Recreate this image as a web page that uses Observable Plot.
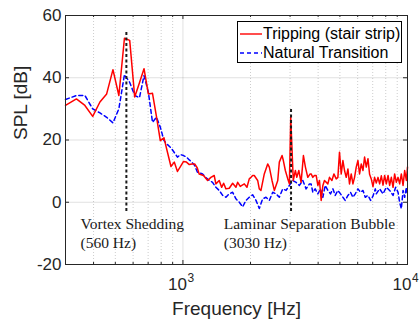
<!DOCTYPE html>
<html><head><meta charset="utf-8">
<script src="https://cdn.jsdelivr.net/npm/d3@7"></script>
<script src="https://cdn.jsdelivr.net/npm/@observablehq/plot@0.6"></script>
<style>
body{margin:0;background:#fff;}
#wrap{position:relative;width:419px;height:324px;font-family:"Liberation Sans",Arial,sans-serif;}
#legend{position:absolute;left:237px;top:21px;width:165px;height:42px;border:1px solid #000;background:#fff;box-sizing:border-box;font-size:16px;color:#000;}
#legend .row{position:absolute;left:0;height:20px;line-height:20px;white-space:nowrap;}
#legend svg{position:absolute;left:2px;top:0;}
#legend span{position:absolute;left:25px;top:0;}
</style></head>
<body><div id="wrap"></div>
<script>
const tripFreq = [300,335.5,366,396.5,427,457.5,488,518.5,549,579.5,610,640.5,671,701.5,732,762.5,793,823.5,854,884.5,915,945.5,976,1006.5,1037,1067.5,1098,1128.5,1159,1181,1235,1288,1332,1378,1402,1451,1487,1518,1554,1608,1665,1722,1753,1800,1876,1928,1974,2009,2045,2078,2152,2188,2226,2303,2385,2425,2493,2553,2644,2687,2763,2800,2858,2930,2979,3020,3100,3168,3214,3281,3359,3440,3511,3598,3685,3723,3788,3851,3920,3989,4055,4127,4199,4268,4420,4493,4607,4702,4815,4898,4980,5068,5157,5243,5335,5429,5518,5616,5715,5811,5912,6016,6117,6225,6335,6440,6553,6668,6778,6898,7020,7136,7261,7390,7514,7646,7781,7911,8050,8192,8327,8472,8622,8764,8920,9077,9227,9388,9555,9714,9885,10000];
const tripSPL = [31.1,33.2,31.1,27.6,32.2,34.8,42.6,34.3,52.7,52.0,33.8,38.4,42.9,34.8,35.0,27.5,19.8,20.7,16.0,11.5,12.9,9.9,11.5,13.1,12.9,12.1,12.3,12.3,11.0,9.1,8.6,7.0,8.0,8.6,5.9,7.0,4.8,6.1,4.3,4.5,6.1,4.8,6.4,5.1,5.9,4.8,7.5,8.0,8.6,8.6,7.0,4.3,3.8,9.1,12.3,11.3,7.0,3.8,7.0,12.9,15.0,13.4,10.2,7.5,5.9,27.3,7.0,10.2,8.0,10.2,6.4,15.0,11.3,8.0,9.1,9.1,8.0,8.6,8.6,5.4,7.0,0.6,5.4,7.0,5.9,8.0,7.0,9.1,7.5,8.0,16.1,9.1,13.4,10.2,8.0,10.7,5.9,9.1,5.9,8.0,11.3,13.4,9.1,12.3,10.2,14.5,11.3,14.0,9.0,7.5,5.0,8.0,6.2,8.0,5.9,8.5,5.5,8.6,5.9,8.6,5.4,8.0,4.8,9.1,6.4,8.0,5.9,9.1,5.4,10.2,7.0,11.3];
const natFreq = [300,335.5,366,396.5,427,457.5,488,518.5,549,579.5,610,640.5,671,701.5,732,762.5,793,823.5,854,884.5,915,945.5,976,1006.5,1037,1067.5,1098,1128.5,1159,1223,1265,1310,1355,1402,1451,1503,1554,1608,1665,1722,1782,1845,1909,1974,2045,2115,2188,2265,2344,2425,2511,2598,2687,2783,2879,2979,3084,3191,3301,3418,3536,3659,3723,3788,3879,3989,4097,4199,4300,4420,4540,4654,4766,4898,5032,5157,5280,5429,5576,5715,5852,6016,6179,6335,6486,6668,6849,7020,7188,7261,7514,7781,8050,8327,8622,8856,9077,9227,9388,9555,9714,9885,10000];
const natSPL = [33.0,34.3,34.3,30.0,28.7,27.3,25.5,30.0,41.0,38.5,34.3,33.6,40.7,35.4,25.7,27.3,24.1,19.8,18.5,17.5,16.0,14.5,15.3,15.0,14.5,13.6,12.8,11.8,9.7,9.1,7.9,7.0,6.4,4.8,3.8,2.2,1.6,2.7,3.2,1.1,0,-1.5,0.6,1.6,2.4,0.6,-2.0,1.1,1.6,0.6,3.2,2.7,1.6,4.3,3.8,5.4,7.0,6.4,5.4,7.0,4.3,5.9,5.9,3.2,4.3,2.7,4.3,1.6,5.4,3.8,2.7,4.3,2.2,3.8,2.7,1.6,0.6,2.2,3.2,1.6,2.7,4.3,3.2,3.8,1.6,2.2,0.6,2.0,4.3,2.7,4.3,2.7,4.8,3.8,2.2,4.8,3.2,0,-2.1,3.8,1.6,4.8,2.2];
const seriesNames = ["Tripping (stair strip)", "Natural Transition"];
const eventFreq = [560, 3030];
const eventTop = [55, 30];
const eventBottom = [-3, -3];
const labelFreq = [350, 1520];
const labelSPL = [-9.7, -9.7];
const eventLabels = ["Vortex Shedding\n(560 Hz)", "Laminar Separation Bubble\n(3030 Hz)"];
const yTicks = [-20, 0, 20, 40, 60];
const yTickLabels = ["-20", "0", "20", "40", "60"];
const xMajor = [1000, 10000];
const xMajorBase = ["10", "10"];
const xMajorExp = ["3", "4"];
const xMinor = [400,500,600,700,800,900,2000,3000,4000,5000,6000,7000,8000,9000];

const trip = tripFreq.map((f, i) => ({f, spl: tripSPL[i]}));
const nat = natFreq.map((f, i) => ({f, spl: natSPL[i]}));
const events = eventFreq.map((f, i) => ({f, top: eventTop[i], bottom: eventBottom[i], lf: labelFreq[i], ls: labelSPL[i], label: eventLabels[i]}));
const majors = xMajor.map((v, i) => ({v, base: xMajorBase[i], exp: xMajorExp[i]}));
const yt = yTicks.map((v, i) => ({v, label: yTickLabels[i]}));

const axisColor = "#262626";
const chart = Plot.plot({
  width: 419, height: 324,
  marginLeft: 65, marginRight: 12, marginTop: 15, marginBottom: 60,
  style: {fontFamily: "'Liberation Sans', Arial, sans-serif", background: "#fff", color: "#000"},
  x: {type: "log", domain: [300, 10000], axis: null},
  y: {domain: [-20, 60], axis: null},
  marks: [
    Plot.gridX(xMinor, {stroke: "#000", strokeOpacity: 0.2, strokeDasharray: "1,2"}),
    Plot.gridX(xMajor, {stroke: "#000", strokeOpacity: 0.12}),
    Plot.gridY(yTicks, {stroke: "#000", strokeOpacity: 0.12}),
    Plot.line(nat, {x: "f", y: "spl", stroke: "#0000ff", strokeWidth: 1.5, strokeDasharray: "4,3"}),
    Plot.line(trip, {x: "f", y: "spl", stroke: "#ff0000", strokeWidth: 1.5}),
    Plot.ruleX(events, {x: "f", y1: "bottom", y2: "top", stroke: "#1a1a1a", strokeWidth: 2, strokeDasharray: "3,2.5"}),
    Plot.text(events, {x: "lf", y: "ls", text: "label", textAnchor: "start", lineAnchor: "middle", lineHeight: 1.26, fontFamily: "'Liberation Serif', 'Times New Roman', serif", fontSize: 15.5, fill: "#1a1a1a"}),
    Plot.frame({stroke: axisColor, strokeWidth: 1}),
    Plot.tickY(yTicks, {y: d => d, insetRight: 338, stroke: axisColor}),
    Plot.tickY(yTicks, {y: d => d, insetLeft: 338, stroke: axisColor}),
    Plot.tickX(xMajor, {x: d => d, insetTop: 245, stroke: axisColor}),
    Plot.tickX(xMajor, {x: d => d, insetBottom: 245, stroke: axisColor}),
    Plot.tickX(xMinor, {x: d => d, insetTop: 247, stroke: axisColor}),
    Plot.tickX(xMinor, {x: d => d, insetBottom: 247, stroke: axisColor}),
    Plot.text(yt, {y: "v", text: "label", frameAnchor: "left", dx: -4, textAnchor: "end", fontSize: 17, fill: axisColor}),
    Plot.text(majors, {x: "v", text: "base", frameAnchor: "bottom", dx: 4, dy: 25, textAnchor: "end", fontSize: 17, fill: axisColor}),
    Plot.text(majors, {x: "v", text: "exp", frameAnchor: "bottom", dx: 4.5, dy: 17.5, textAnchor: "start", fontSize: 12, fill: axisColor}),
    Plot.text(["Frequency [Hz]"], {text: d => d, frameAnchor: "bottom", dy: 50, fontSize: 19, fill: axisColor}),
    Plot.text(["SPL [dB]"], {text: d => d, frameAnchor: "left", dx: -45, rotate: -90, fontSize: 19, fill: axisColor})
  ]
});
const wrap = document.getElementById("wrap");
wrap.appendChild(chart);
const legend = document.createElement("div");
legend.id = "legend";
const styles = [{stroke: "#ff0000", dash: ""}, {stroke: "#0000ff", dash: "4,3"}];
seriesNames.forEach((name, i) => {
  const row = document.createElement("div");
  row.className = "row";
  row.style.top = (2 + i * 19) + "px";
  row.style.width = "160px";
  row.innerHTML = `<svg width="22" height="20"><line x1="0" y1="10" x2="22" y2="10" stroke="${styles[i].stroke}" stroke-width="1.4" ${styles[i].dash ? `stroke-dasharray="${styles[i].dash}"` : ""}/></svg><span></span>`;
  row.querySelector("span").textContent = name;
  legend.appendChild(row);
});
wrap.appendChild(legend);
</script>
</body></html>
